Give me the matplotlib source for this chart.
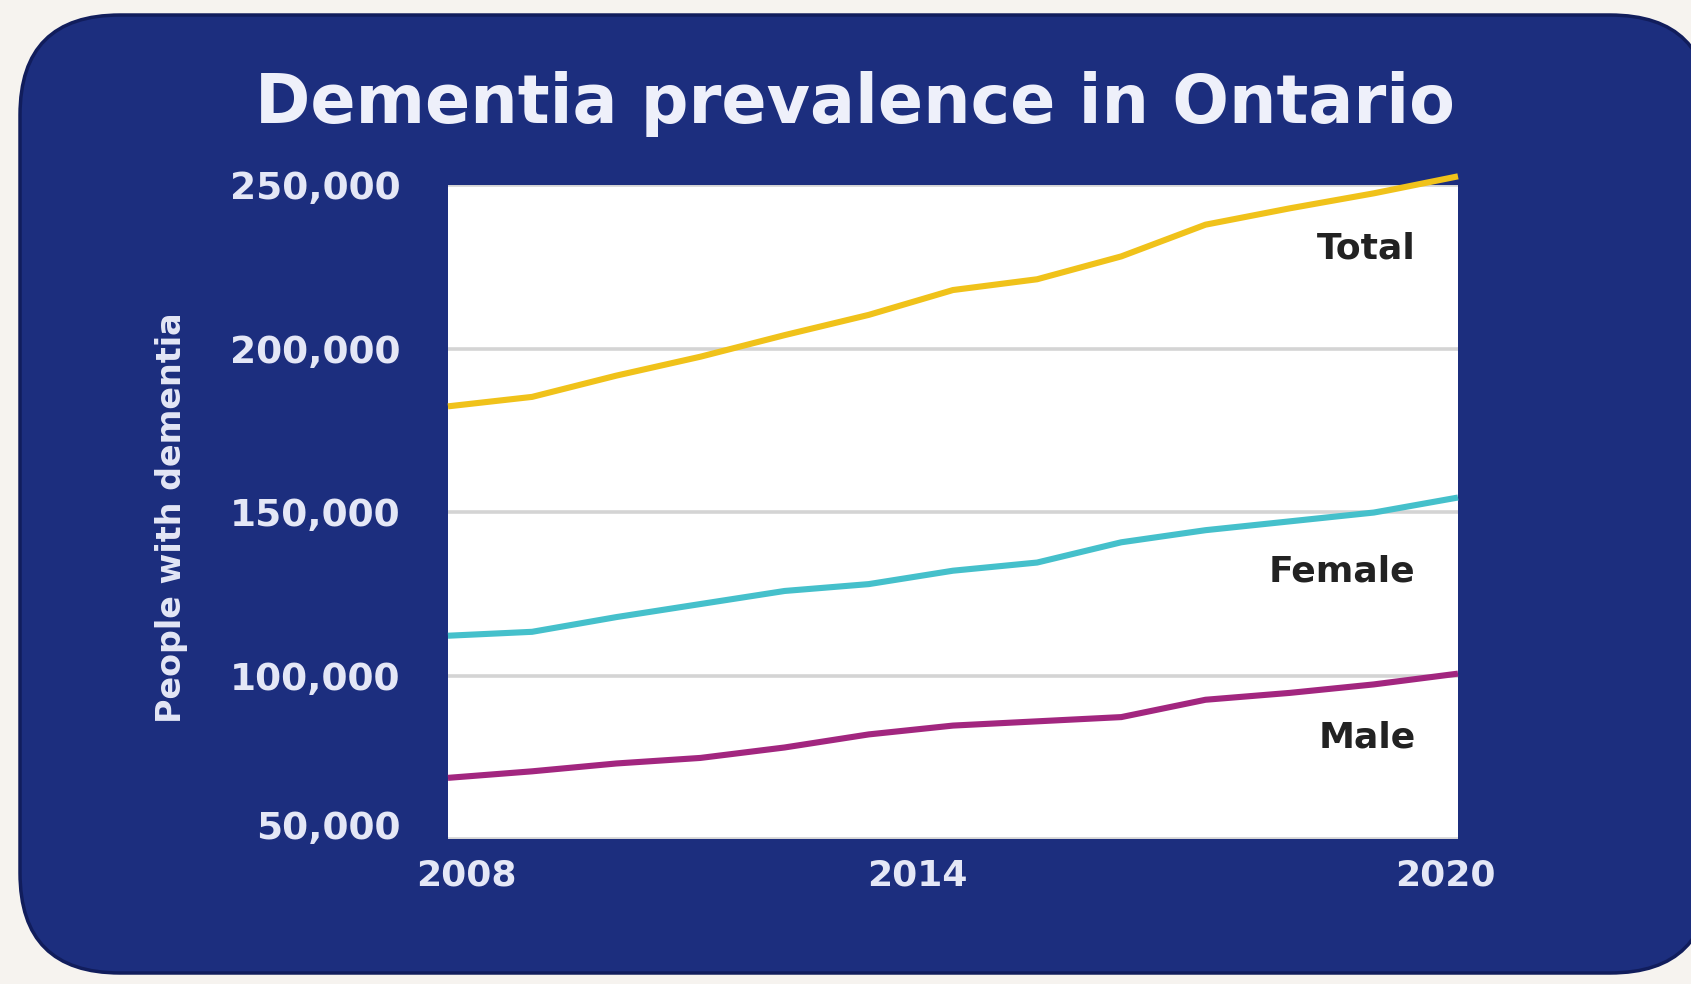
import matplotlib.pyplot as plt
import matplotlib.transforms as mtransforms
from matplotlib.patches import FancyBboxPatch

# values
years = [2008, 2009, 2010, 2011, 2012, 2013, 2014, 2015, 2016, 2017, 2018, 2019, 2020]
total = [182400, 185300, 191800, 197600, 204200, 210400, 218000, 221300, 228300, 238000, 243000, 247600, 252800]
female = [112200, 113400, 117900, 121900, 125900, 128000, 132100, 134600, 140800, 144500, 147200, 149900, 154500]
male = [68700, 70700, 73100, 74800, 78000, 82000, 84700, 86000, 87300, 92600, 94700, 97300, 100600]

series_names = ['Total', 'Female', 'Male']
series_colors = ['#f0c21a', '#45c0cb', '#a2267f']
label_y = [0.904, 0.41, 0.155]

y_ticks = [50000, 100000, 150000, 200000, 250000]
x_ticks = [2008, 2014, 2020]

navy = '#1c2e7e'
pale = '#e4e7f6'

plt.rcParams['font.family'] = ['DejaVu Sans']

fig = plt.figure(figsize=(16.91, 9.84), dpi=100, facecolor='#f6f3ef')

# rounded navy panel behind everything (pixel coordinates)
panel = FancyBboxPatch((20, 11), 1690, 958,
                       boxstyle='round,pad=0,rounding_size=100',
                       transform=mtransforms.IdentityTransform(),
                       facecolor=navy, edgecolor='#111d5c', linewidth=2.5, zorder=-5)
fig.patches.append(panel)

ax = fig.add_axes([0.2649, 0.1474, 0.5973, 0.6641])
ax.set_zorder(2)
ax.set_facecolor('white')

for vals, name, col in zip([total, female, male], series_names, series_colors):
    ax.plot(years, vals, color=col, linewidth=4.4, solid_capstyle='butt',
            solid_joinstyle='round', clip_on=False, zorder=3)

for name, yy in zip(series_names, label_y):
    ax.text(0.958, yy, name, transform=ax.transAxes, ha='right', va='center',
            fontsize=26, fontweight='bold', color='#222222', zorder=4)

ax.set_xlim(2008, 2020)
ax.set_ylim(50000, 250000)
ax.set_yticks(y_ticks)
ax.set_yticklabels([f'{v:,}' for v in y_ticks])
ax.set_xticks(x_ticks)
ax.set_xticklabels([str(v) for v in x_ticks])
ax.yaxis.grid(True, color='#d4d4d4', linewidth=2.6)
ax.set_axisbelow(True)
for s in ax.spines.values():
    s.set_visible(False)
ax.tick_params(axis='both', length=0, colors=pale, labelsize=27)
ax.tick_params(axis='y', pad=34)
ax.tick_params(axis='x', pad=14, labelsize=26)
for lab in ax.get_yticklabels() + ax.get_xticklabels():
    lab.set_fontweight('bold')

# nudge tick labels like in the original artwork
x_shift = [18, -36, -13]
for lab, dx in zip(ax.get_xticklabels(), x_shift):
    lab.set_transform(lab.get_transform() + mtransforms.ScaledTranslation(dx / 100, 0, fig.dpi_scale_trans))
first = ax.get_yticklabels()[0]
first.set_transform(first.get_transform() + mtransforms.ScaledTranslation(0, 14 / 100, fig.dpi_scale_trans))

fig.text(172 / 1691, 1 - 518 / 984, 'People with dementia', rotation=90, ha='center', va='center',
         fontsize=24, fontweight='bold', color=pale)
fig.text(855 / 1691, 1 - 104 / 984, 'Dementia prevalence in Ontario', ha='center', va='center',
         fontsize=48, fontweight='bold', color='#eef0fa')

fig.savefig('out.png', dpi=100, facecolor=fig.get_facecolor())
